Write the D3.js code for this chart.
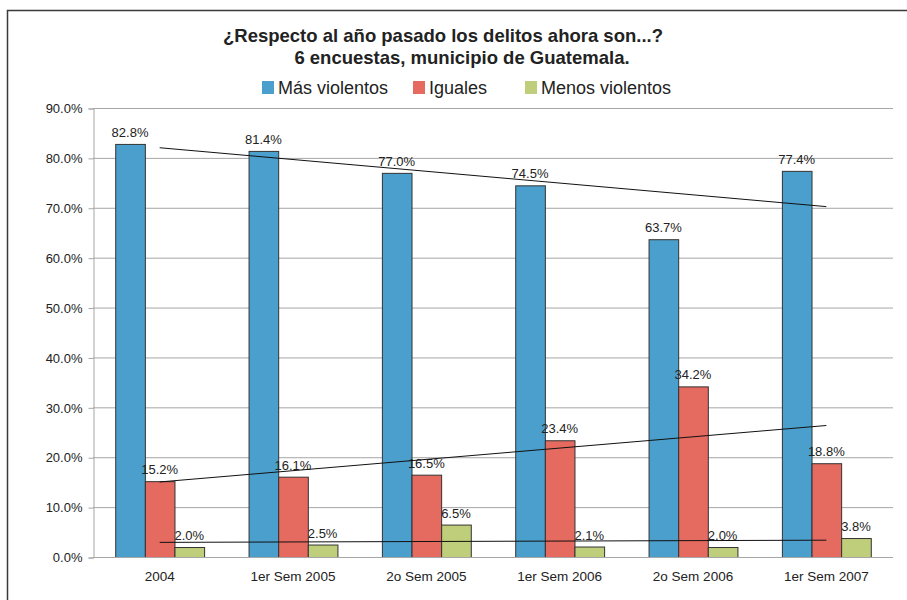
<!DOCTYPE html>
<html>
<head>
<meta charset="utf-8">
<script src="https://cdn.jsdelivr.net/npm/d3@7"></script>
<style>
  body { margin: 0; background: #fff; }
  svg { display: block; font-family: "Liberation Sans", Arial, sans-serif; }
</style>
</head>
<body>
<div id="chart"></div>
<script>
// data
var categories = ["2004", "1er Sem 2005", "2o Sem 2005", "1er Sem 2006", "2o Sem 2006", "1er Sem 2007"];
var seriesNames = ["Más violentos", "Iguales", "Menos violentos"];
var masViolentos = [82.8, 81.4, 77.0, 74.5, 63.7, 77.4];
var iguales = [15.2, 16.1, 16.5, 23.4, 34.2, 18.8];
var menosViolentos = [2.0, 2.5, 6.5, 2.1, 2.0, 3.8];
var yTicks = [0, 10, 20, 30, 40, 50, 60, 70, 80, 90];

var colors = ["#4b9fcd", "#e56a5f", "#bfce7b"];
var allSeries = [masViolentos, iguales, menosViolentos];

var W = 907, H = 600;
var svg = d3.select("#chart").append("svg")
	.attr("width", W)
	.attr("height", H);

// outer frame
svg.append("rect")
	.attr("x", 7.5).attr("y", 10.5)
	.attr("width", 910).attr("height", 600)
	.attr("fill", "#fff")
	.attr("stroke", "#3a3a3a")
	.attr("stroke-width", 1.5);

var plotL = 93, plotR = 893, plotT = 108, plotB = 557;

var x0 = d3.scaleBand().domain(categories).range([plotL, plotR]).padding(0);
var x1 = d3.scaleBand().domain(d3.range(3)).range([0, x0.bandwidth()]).paddingInner(0).paddingOuter(0.75);
var y = d3.scaleLinear().domain([0, 90]).range([plotB, plotT]);

// gridlines
svg.append("g")
	.selectAll("line")
	.data(yTicks.filter(function(d) { return d > 0; }))
	.enter().append("line")
	.attr("x1", plotL).attr("x2", plotR)
	.attr("y1", function(d) { return y(d) + 0.5; })
	.attr("y2", function(d) { return y(d) + 0.5; })
	.attr("stroke", "#a6a6a6")
	.attr("stroke-width", 1);

// y axis
var yAxis = svg.append("g")
	.attr("transform", "translate(" + (plotL + 0.5) + ",0.5)")
	.call(d3.axisLeft(y).tickValues(yTicks).tickSize(5).tickPadding(6)
		.tickFormat(function(d) { return d.toFixed(1) + "%"; }));
yAxis.select(".domain").attr("stroke", "#a6a6a6");
yAxis.selectAll(".tick line").attr("stroke", "#a6a6a6");
yAxis.selectAll("text")
	.attr("font-size", "13px")
	.attr("fill", "#222")
	.style("font-family", "Liberation Sans, Arial, sans-serif");

// bars
var groups = svg.append("g")
	.selectAll("g")
	.data(categories)
	.enter().append("g")
	.attr("transform", function(d) { return "translate(" + x0(d) + ",0)"; });

groups.selectAll("rect")
	.data(function(d, i) { return allSeries.map(function(s, k) { return { k: k, v: s[i] }; }); })
	.enter().append("rect")
	.attr("x", function(d) { return x1(d.k) + 0.5; })
	.attr("y", function(d) { return y(d.v) + 0.5; })
	.attr("width", x1.bandwidth())
	.attr("height", function(d) { return plotB - y(d.v); })
	.attr("fill", function(d) { return colors[d.k]; })
	.attr("stroke", "#333")
	.attr("stroke-width", 1);

// x axis line
svg.append("line")
	.attr("x1", plotL).attr("x2", plotR)
	.attr("y1", plotB + 0.5).attr("y2", plotB + 0.5)
	.attr("stroke", "#a6a6a6");

svg.append("g")
	.selectAll("text")
	.data(categories)
	.enter().append("text")
	.attr("x", function(d) { return x0(d) + x0.bandwidth() / 2; })
	.attr("y", plotB + 24)
	.attr("text-anchor", "middle")
	.attr("font-size", "13.5px")
	.attr("fill", "#222")
	.text(function(d) { return d; });

// value labels
groups.selectAll("text.val")
	.data(function(d, i) { return allSeries.map(function(s, k) { return { k: k, v: s[i] }; }); })
	.enter().append("text")
	.attr("class", "val")
	.attr("x", function(d) { return x1(d.k) + x1.bandwidth() / 2; })
	.attr("y", function(d) { return y(d.v) - 7; })
	.attr("text-anchor", "middle")
	.attr("font-size", "13px")
	.attr("fill", "#222")
	.text(function(d) { return d.v.toFixed(1) + "%"; });

// linear trend lines (least squares over category index)
function trend(vals) {
	var n = vals.length;
	var mx = d3.mean(d3.range(n)), my = d3.mean(vals);
	var sxy = d3.sum(vals, function(v, i) { return (i - mx) * (v - my); });
	var sxx = d3.sum(vals, function(v, i) { return (i - mx) * (i - mx); });
	var b = sxy / sxx, a = my - b * mx;
	return [0, n - 1].map(function(i) { return [x0(categories[i]) + x0.bandwidth() / 2, y(a + b * i)]; });
}
svg.append("g")
	.selectAll("path")
	.data(allSeries.map(trend))
	.enter().append("path")
	.attr("d", d3.line())
	.attr("fill", "none")
	.attr("stroke", "#111")
	.attr("stroke-width", 1);

// title
var title = svg.append("text")
	.attr("text-anchor", "middle")
	.attr("font-size", "18.5px")
	.attr("font-weight", "bold")
	.attr("fill", "#222");
title.append("tspan").attr("x", 443).attr("y", 42).text("¿Respecto al año pasado los delitos ahora son...?");
title.append("tspan").attr("x", 462).attr("y", 64).text("6 encuestas, municipio de Guatemala.");

// legend
var legendX = [262, 413, 525];
var legend = svg.append("g")
	.selectAll("g")
	.data(seriesNames)
	.enter().append("g")
	.attr("transform", function(d, i) { return "translate(" + legendX[i] + ",81)"; });
legend.append("rect")
	.attr("width", 12).attr("height", 13)
	.attr("fill", function(d, i) { return colors[i]; });
legend.append("text")
	.attr("x", function(d, i) { return i === 1 ? 16 : 16; })
	.attr("y", 13)
	.attr("font-size", "18px")
	.attr("fill", "#222")
	.text(function(d) { return d; });
</script>
</body>
</html>
